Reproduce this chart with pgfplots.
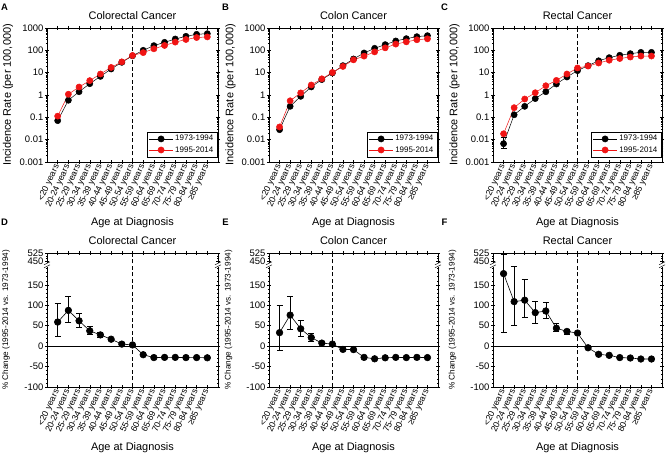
\documentclass[border=0pt]{standalone}
\usepackage{fontspec}
\setmainfont{Liberation Sans}
\usepackage{pgfplots}
\pgfplotsset{compat=1.18}
\definecolor{myred}{RGB}{240,20,20}

\pgfplotsset{
  common/.style={
    scale only axis, height=134bp,
    xmin=-1, xmax=15, xtick={0,...,14},
    xticklabels={<20 years,20-24 years,25-29 years,30-34 years,35-39 years,40-44 years,45-49 years,50-54 years,55-59 years,60-64 years,65-69 years,70-74 years,75-79 years,80-84 years,≥85 years},
    x tick label style={rotate=65, anchor=east, font=\fontsize{8.8}{9}\selectfont, inner sep=1pt},
    y tick label style={font=\fontsize{9.5}{10}\selectfont, inner sep=1.5pt},
    tick align=center, major tick length=4bp, minor tick length=2.5bp,
    tick style={black, line width=0.5pt},
    axis line style={line width=0.6pt},
    title style={font=\fontsize{11}{13}\selectfont, yshift=-1bp},
    xlabel={Age at Diagnosis},
    xlabel style={font=\fontsize{11}{13}\selectfont, at={(axis description cs:0.5,-0.455)}, anchor=center},
    clip=false,
  },
  topp/.style={common, ymin=0.001, ymax=1000,
    ytick={0.001,0.01,0.1,1,10,100,1000},
    yticklabels={0.001,0.01,0.1,1,10,100,1000},
    minor ytick={0.002,0.003,0.004,0.005,0.006,0.007,0.008,0.009,0.02,0.03,0.04,0.05,0.06,0.07,0.08,0.09,0.2,0.3,0.4,0.5,0.6,0.7,0.8,0.9,2,3,4,5,6,7,8,9,20,30,40,50,60,70,80,90,200,300,400,500,600,700,800,900},
    ylabel={Incidence Rate (per 100,000)},
    ylabel style={font=\fontsize{11}{13}\selectfont, at={(axis description cs:-0.228,0.5)}, anchor=center},
    legend style={at={(0.995,0.035)}, anchor=south east, font=\fontsize{8}{9}\selectfont, draw=black, line width=0.6pt, inner sep=1.5pt, row sep=0pt, cells={anchor=west}},
    legend image code/.code={\draw[mark repeat=2, mark phase=2, ##1] plot coordinates {(0cm,0cm) (0.42cm,0cm) (0.84cm,0cm)};},
  },
  botp/.style={common, ymin=-100, ymax=228,
    ytick={-100,-50,0,50,100,150,207,228},
    yticklabels={-100,-50,0,50,100,150,450,525},
    minor ytick={-90,-80,...,190,214,221},
    ylabel={\% Change (1995-2014 vs. 1973-1994)},
    ylabel style={font=\fontsize{8.2}{10}\selectfont, at={(axis description cs:-0.24,0.5)}, anchor=center},
  },
  blk/.style={black, line width=0.5pt, mark=*, mark size=3.1bp, mark options={solid, fill=black}},
  rd/.style={myred, line width=0.5pt, mark=*, mark size=3.1bp, mark options={solid, fill=myred}},
  pc/.style={black, line width=0.6pt, mark=*, mark size=3.3bp, mark options={solid, fill=black}},
  eb/.style={only marks, mark=none, black, forget plot, error bars/.cd, y dir=both, y explicit, error bar style={solid, black, line width=0.5pt}, error mark options={rotate=90, black, mark size=3bp, line width=0.5pt}},
  dsh/.style={black, line width=0.6pt, dash pattern=on 4bp off 2.5bp, forget plot},
}

\begin{document}
\begin{tikzpicture}[x=1bp,y=1bp]
\useasboundingbox (0,0) rectangle (669,454);

% ---------- A ----------
\begin{axis}[ymode=log, topp, at={(47bp,292bp)}, width=171bp, title={Colorectal Cancer}]
\addplot[dsh] coordinates {(7,0.001)(7,1000)};
\addplot[blk] coordinates {(0,0.071)(1,0.58)(2,1.4)(3,3.2)(4,6.8)(5,14.6)(6,29)(7,57)(8,100)(9,162)(10,228)(11,321)(12,424)(13,520)(14,557)};
\addplot[rd] coordinates {(0,0.113)(1,1.08)(2,2.27)(3,4.4)(4,8.7)(5,17.1)(6,30.5)(7,58.7)(8,79)(9,117)(10,165)(11,233)(12,305)(13,374)(14,398)};
\legend{1973-1994,1995-2014}
\end{axis}

% ---------- B ----------
\begin{axis}[ymode=log, topp, at={(269bp,292bp)}, width=169bp, title={Colon Cancer}]
\addplot[dsh] coordinates {(5,0.001)(5,1000)};
\addplot[blk] coordinates {(0,0.028)(1,0.31)(2,0.87)(3,2.3)(4,4.9)(5,9.7)(6,20.6)(7,41)(8,76)(9,123)(10,180)(11,262)(12,333)(13,409)(14,454)};
\addplot[rd] coordinates {(0,0.037)(1,0.55)(2,1.24)(3,2.8)(4,5.3)(5,10.2)(6,19)(7,37.5)(8,55)(9,85)(10,129)(11,190)(12,240)(13,297)(14,327)};
\legend{1973-1994,1995-2014}
\end{axis}

% ---------- C ----------
\begin{axis}[ymode=log, topp, at={(493bp,292bp)}, width=169bp, title={Rectal Cancer}]
\addplot[dsh] coordinates {(7,0.001)(7,1000)};
\addplot[eb] coordinates {(0,0.0066) += (0,0.0064) -= (0,0.0024)};
\addplot[blk] coordinates {(0,0.0066)(1,0.13)(2,0.31)(3,0.69)(4,1.4)(5,3.1)(6,6.4)(7,12.3)(8,20.6)(9,34)(10,47)(11,60)(12,71)(13,81)(14,81)};
\addplot[rd] coordinates {(0,0.0183)(1,0.27)(2,0.66)(3,1.26)(4,2.6)(5,4.5)(6,8.7)(7,16.2)(8,19.8)(9,27)(10,36)(11,43)(12,50)(13,55.5)(14,55.5)};
\legend{1973-1994,1995-2014}
\end{axis}

% ---------- D ----------
\begin{axis}[botp, at={(47bp,67bp)}, width=171bp, title={Colorectal Cancer}]
\addplot[black, line width=0.6pt, forget plot] coordinates {(-1,0)(15,0)};
\addplot[dsh] coordinates {(7,-100)(7,228)};
\addplot[eb] coordinates {(0,59) += (0,45) -= (0,36) (1,87.5) += (0,34.5) -= (0,29.5) (2,62) += (0,19) -= (0,15) (3,37.5) += (0,11.5) -= (0,8.5) (4,27.5) += (0,5.5) -= (0,5.5) (5,17) += (0,3) -= (0,3)};
\addplot[pc] coordinates {(0,59)(1,87.5)(2,62)(3,37.5)(4,27.5)(5,17)(6,5)(7,3)(8,-21)(9,-28)(10,-27.5)(11,-27.5)(12,-28)(13,-28)(14,-28.5)};
\coordinate (DL) at (rel axis cs:0,0.912);
\coordinate (DR) at (rel axis cs:1,0.912);
\end{axis}

% ---------- E ----------
\begin{axis}[botp, at={(269bp,67bp)}, width=169bp, title={Colon Cancer}]
\addplot[black, line width=0.6pt, forget plot] coordinates {(-1,0)(15,0)};
\addplot[dsh] coordinates {(5,-100)(5,228)};
\addplot[eb] coordinates {(0,33) += (0,68) -= (0,43) (1,76) += (0,46) -= (0,34) (2,42.5) += (0,20.5) -= (0,17.5) (3,21) += (0,11) -= (0,10) (4,7.5) += (0,3) -= (0,3)};
\addplot[pc] coordinates {(0,33)(1,76)(2,42.5)(3,21)(4,7.5)(5,5)(6,-8)(7,-8.5)(8,-27.5)(9,-31)(10,-28.5)(11,-27.5)(12,-28)(13,-27.5)(14,-28)};
\coordinate (EL) at (rel axis cs:0,0.912);
\coordinate (ER) at (rel axis cs:1,0.912);
\end{axis}

% ---------- F ----------
\begin{axis}[botp, at={(493bp,67bp)}, width=169bp, title={Rectal Cancer}]
\addplot[black, line width=0.6pt, forget plot] coordinates {(-1,0)(15,0)};
\addplot[dsh] coordinates {(7,-100)(7,228)};
\addplot[eb] coordinates {(0,177.5) += (0,47.1) -= (0,143.5) (1,109) += (0,87) -= (0,58) (2,112.5) += (0,50.5) -= (0,41.5) (3,82) += (0,29) -= (0,25) (4,86) += (0,22) -= (0,18.5) (5,44) += (0,13) -= (0,8) (6,36) += (0,6.5) -= (0,6) (7,32) += (0,3) -= (0,3)};
\addplot[pc] coordinates {(0,177.5)(1,109)(2,112.5)(3,82)(4,86)(5,44)(6,36)(7,32)(8,-4)(9,-20)(10,-22.5)(11,-28)(12,-29)(13,-31.5)(14,-31.5)};
\coordinate (FL) at (rel axis cs:0,0.912);
\coordinate (FR) at (rel axis cs:1,0.912);
\end{axis}

% axis breaks
\foreach \c in {DL,DR,EL,ER,FL,FR}{
  \fill[white] ([shift={(-1.5bp,-2bp)}]\c) rectangle ([shift={(1.5bp,2bp)}]\c);
  \draw[black, line width=0.5pt] ([shift={(-3bp,-3bp)}]\c) -- ([shift={(3bp,0bp)}]\c);
  \draw[black, line width=0.5pt] ([shift={(-3bp,0bp)}]\c) -- ([shift={(3bp,3bp)}]\c);
}

% panel letters
\foreach \l/\x/\y in {A/4.5/447,B/225.5/447,C/444.5/447,D/4.5/232,E/225.5/232,F/444.5/232}{
  \node[font=\bfseries\fontsize{9.5}{10}\selectfont, inner sep=0pt] at (\x,\y) {\l};
}
\end{tikzpicture}
\end{document}
